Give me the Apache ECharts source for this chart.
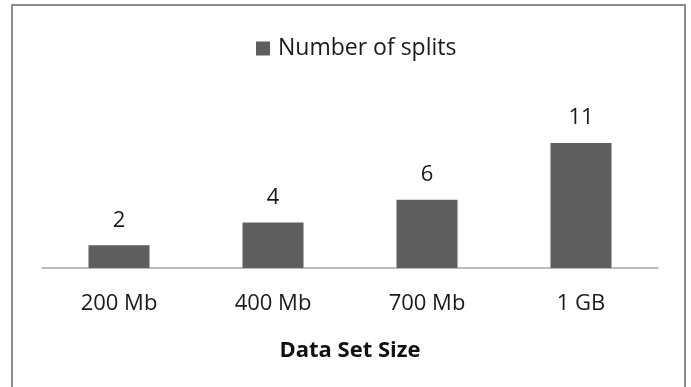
<!DOCTYPE html>
<html><head><meta charset="utf-8">
<script src="https://cdn.jsdelivr.net/npm/echarts@6/dist/echarts.min.js"></script>
<style>
html,body{margin:0;padding:0;background:#fff;}
#frame{position:absolute;left:11px;top:4px;width:675px;height:400px;border:2px solid #8c8c8c;border-bottom:none;box-sizing:border-box;}
#c{position:absolute;left:0;top:0;width:691px;height:387px;}
</style>
</head><body>
<div id="frame"></div>
<div id="c"></div>
<script>
const categories = ["200 Mb", "400 Mb", "700 Mb", "1 GB"];
const splits = [2, 4, 6, 11];
const seriesName = "Number of splits";
const xTitle = "Data Set Size";

const font = '"Open Sans", "Noto Sans", sans-serif';
const chart = echarts.init(document.getElementById('c'), null, {renderer: 'canvas'});
chart.setOption({
  animation: false,
  backgroundColor: 'transparent',
  legend: {
    data: [seriesName],
    top: 32,
    left: 251,
    itemWidth: 14,
    itemHeight: 14,
    icon: 'rect',
    itemGap: 8,
    textStyle: {fontFamily: font, fontSize: 23, color: '#1a1a1a', padding: [0, 0, 0, 3]}
  },
  grid: {left: 42, right: 33, top: 143, bottom: 119},
  xAxis: {
    type: 'category',
    data: categories,
    axisLine: {lineStyle: {color: '#a6a6a6', width: 1.5}},
    axisTick: {show: false},
    axisLabel: {fontFamily: font, fontSize: 22, color: '#1a1a1a', margin: 25},
    name: xTitle,
    nameLocation: 'middle',
    nameGap: 72,
    nameTextStyle: {fontFamily: font, fontSize: 22, fontWeight: 'bold', color: '#111'}
  },
  yAxis: {
    type: 'value', min: 0, max: 11,
    show: false
  },
  series: [{
    name: seriesName,
    type: 'bar',
    data: splits,
    barWidth: 61,
    itemStyle: {color: '#5f5f5f'},
    label: {show: true, position: 'top', distance: 14, fontFamily: font, fontSize: 22, color: '#1a1a1a'}
  }]
});
</script>
</body></html>
